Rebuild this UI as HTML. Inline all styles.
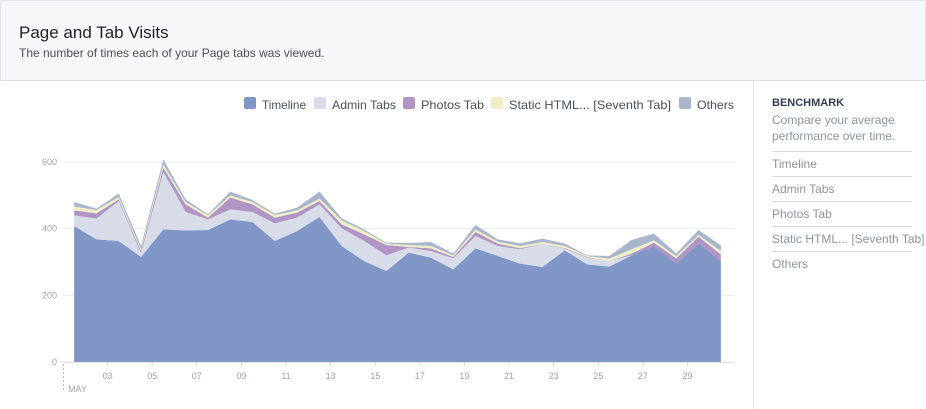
<!DOCTYPE html>
<html><head><meta charset="utf-8"><style>
body{margin:0;width:926px;height:409px;overflow:hidden;font-family:"Liberation Sans",sans-serif;background:#fff;position:relative}
#hdr{position:absolute;left:0;top:0;width:924px;height:79px;background:#f6f7f9;border:1px solid #e3e5e9;border-bottom:1px solid #dcdee3}
#title{position:absolute;left:18px;top:22px;font-size:17px;color:#1d2129}
#sub{position:absolute;left:18px;top:45px;font-size:12px;color:#4b4f56}
#side{position:absolute;left:753px;top:81px;width:173px;height:328px;border-left:1px solid #e3e5e9}
#side .h{position:absolute;left:18px;top:16px;font-size:11px;font-weight:bold;color:#333f55}
#side .d{position:absolute;left:18px;top:31px;font-size:12px;line-height:16px;color:#90949c}
.it{position:absolute;left:18px;width:140px;height:24px;border-top:1px solid #d7d9de;font-size:12px;color:#90949c;line-height:24px;white-space:nowrap}
</style></head><body>
<div id="hdr">
<div id="title">Page and Tab Visits</div>
<div id="sub">The number of times each of your Page tabs was viewed.</div>
</div>
<svg id="chart" width="753" height="328" style="position:absolute;left:0;top:81px" font-family="Liberation Sans, sans-serif"></svg>
<div id="side">
<div class="h">BENCHMARK</div>
<div class="d">Compare your average<br>performance over time.</div>
<div class="it" style="top:70px">Timeline</div>
<div class="it" style="top:95px">Admin Tabs</div>
<div class="it" style="top:120px">Photos Tab</div>
<div class="it" style="top:145px">Static HTML... [Seventh Tab]</div>
<div class="it" style="top:170px">Others</div>
</div>
<script>
const seriesNames=["Timeline","Admin Tabs","Photos Tab","Static HTML... [Seventh Tab]","Others"];
const timeline=[408,368,363,315,398,395,396,428,420,363,393,435,348,303,273,328,313,278,341,318,295,285,335,293,286,320,348,295,356,303];
const adminTabs=[32,62,120,11,172,55,32,30,30,53,40,38,53,60,47,15,20,33,37,30,43,70,5,20,17,0,0,0,0,0];
const photosTab=[15,16,5,7,13,23,5,35,23,17,15,10,12,20,31,2,8,4,12,7,3,0,2,2,0,5,10,16,20,20];
const staticHtml=[11,10,7,5,10,7,7,7,7,8,7,7,12,10,4,6,7,5,8,6,7,5,6,3,7,13,7,7,5,10];
const others=[14,4,10,10,15,8,3,11,6,4,8,21,6,5,3,6,12,5,13,7,8,10,7,2,8,28,20,8,15,17];
const yTicks=[0,200,400,600];
const xTickLabels=["03","05","07","09","11","13","15","17","19","21","23","25","27","29"];
const colors=["#7f96c6","#d8dbe8","#b095c4","#f0eec5","#a9b5cc"];
const NS="http://www.w3.org/2000/svg";
const svg=document.getElementById('chart');
const OY=81;
const x=d=>63+(d-1)*22.3;
const y=v=>362-OY-v/3;
function mk(t,a){const e=document.createElementNS(NS,t);for(const k in a)e.setAttribute(k,a[k]);svg.appendChild(e);return e;}
yTicks.forEach(v=>{
  const l=mk('line',{x1:62,x2:735,y1:y(v),y2:y(v),stroke:'#eceef1'});
  
  
  const t=mk('text',{x:57,y:y(v)+3,'font-size':9,fill:'#9ea3ad','text-anchor':'end'});
  t.textContent=v;
  
  
});
const data=[timeline,adminTabs,photosTab,staticHtml,others];
let base=timeline.map(()=>0);
data.forEach((s,si)=>{
  const top=s.map((v,i)=>base[i]+v);
  let d='';
  top.forEach((v,i)=>{d+=(i?'L':'M')+x(i+1.5)+','+y(v);});
  for(let i=top.length-1;i>=0;i--)d+='L'+x(i+1.5)+','+y(base[i]);
  const p=mk('path',{d:d+'Z',fill:colors[si]});
  
  
  base=top;
});
mk('line',{x1:62,x2:735,y1:y(0)+0.5,y2:y(0)+0.5,stroke:'#e3e5e9'});
xTickLabels.forEach(lbl=>{
  const d=parseInt(lbl,10);
  const t=mk('text',{x:x(d),y:y(0)+17,'font-size':9,fill:'#9ea3ad','text-anchor':'middle'});
  t.textContent=lbl;
  
  
  mk('line',{x1:x(d),x2:x(d),y1:y(0),y2:y(0)+4,stroke:'#d0d3d9'});
});
mk('line',{x1:63.5,x2:63.5,y1:y(0)+2,y2:y(0)+30,stroke:'#b8bcc4','stroke-dasharray':'2,2'});
const mt=mk('text',{x:68,y:y(0)+30,'font-size':9,fill:'#9ea3ad'});
mt.textContent='MAY';


const legX=[244,314,403,491,679];
const legW=[44,64,63,162,37];
seriesNames.forEach((n,i)=>{
  const r=mk('rect',{x:legX[i],y:97-OY,width:12,height:12,rx:2,fill:colors[i]});
  
  
  const t=mk('text',{x:legX[i]+18,y:109-OY,'font-size':12,fill:'#4b4f56',textLength:legW[i],lengthAdjust:'spacingAndGlyphs'});
  t.textContent=n;
  
  
});
</script>
</body></html>
